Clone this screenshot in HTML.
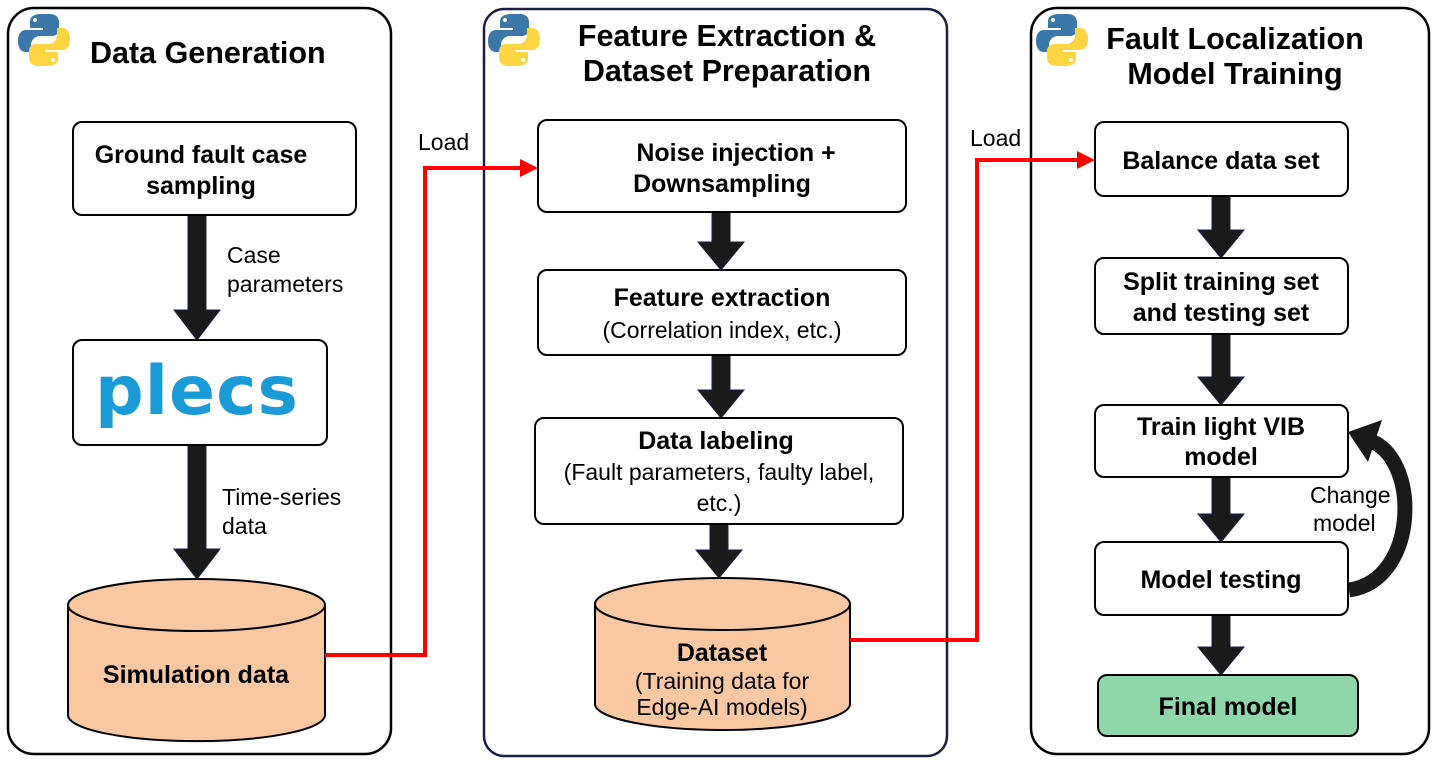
<!DOCTYPE html>
<html><head><meta charset="utf-8"><style>
html,body{margin:0;padding:0;background:#fff}
svg{display:block}
text{font-family:"Liberation Sans",sans-serif}
.b{font-weight:bold;font-size:25px}
.n{font-size:23px}
.t{font-weight:bold;font-size:30.5px}
</style></head><body>
<svg width="1435" height="761" viewBox="0 0 1435 761" xmlns="http://www.w3.org/2000/svg">
<defs>
<g id="py">
<path d="M22 2c-9 0-12 3-12 8v6h13v2H6c-5 0-8 4-8 11s3 11 8 11h5v-7c0-5 4-9 9-9h12c4 0 7-3 7-7V10c0-5-4-8-9-8z" fill="#3b77a8"/>
<circle cx="15" cy="8" r="2" fill="#fff"/>
<path d="M26 54c9 0 12-3 12-8v-6H25v-2h17c5 0 8-4 8-11s-3-11-8-11h-5v7c0 5-4 9-9 9H16c-4 0-7 3-7 7v7c0 5 4 8 9 8z" fill="#fdd441"/>
<circle cx="33" cy="48" r="2" fill="#fff"/>
</g>
</defs>
<g fill="none" stroke="#000" stroke-width="2.5">
<rect x="8" y="8" width="383" height="746" rx="26"/>
<rect x="484" y="9" width="463" height="747" rx="20" stroke="#1a1f4a"/>
<rect x="1031" y="8" width="398" height="746" rx="26"/>
</g>
<use href="#py" x="20" y="12"/>
<use href="#py" x="490" y="12"/>
<use href="#py" x="1038" y="12"/>
<text class="t" x="90" y="63">Data Generation</text>
<text class="t" x="727" y="46" text-anchor="middle">Feature Extraction &amp;</text>
<text class="t" x="727" y="81" text-anchor="middle">Dataset Preparation</text>
<text class="t" x="1235" y="49" text-anchor="middle">Fault Localization</text>
<text class="t" x="1235" y="84" text-anchor="middle">Model Training</text>

<g fill="#1a1a1a" stroke="#1a1f4a" stroke-width="1">
<path d="M188 215h18v95h14l-23 30l-23-30h14z"/>
<path d="M188 445h18v104h14l-23 30l-23-30h14z"/>
<path d="M712 212h18v30h14l-23 28l-23-28h14z"/>
<path d="M712 355h18v35h14l-23 28l-23-28h14z"/>
<path d="M710 524h18v26h14l-23 28l-23-28h14z"/>
<path d="M1212 196h18v34h14l-23 28l-23-28h14z"/>
<path d="M1212 334h18v43h14l-23 28l-23-28h14z"/>
<path d="M1212 477h18v37h14l-23 28l-23-28h14z"/>
<path d="M1212 615h18v32h14l-23 28l-23-28h14z"/>
</g>
<path d="M1349 590C1420 580 1420 455 1368 440" fill="none" stroke="#1a1a1a" stroke-width="15"/>
<path d="M1348 432L1382 420L1368 462z" fill="#1a1a1a"/>

<g fill="#fff" stroke="#000" stroke-width="2">
<rect x="73" y="122" width="283" height="93" rx="9"/>
<rect x="73" y="340" width="254" height="105" rx="9"/>
<rect x="538" y="120" width="368" height="92" rx="9"/>
<rect x="538" y="270" width="368" height="85" rx="9"/>
<rect x="535" y="418" width="368" height="106" rx="9"/>
<rect x="1095" y="122" width="253" height="74" rx="9"/>
<rect x="1095" y="258" width="253" height="76" rx="9"/>
<rect x="1095" y="405" width="253" height="72" rx="9"/>
<rect x="1095" y="542" width="253" height="73" rx="9"/>
<rect x="1098" y="675" width="260" height="61" rx="9" fill="#8fd6a9"/>
</g>
<g fill="#f9c8a2" stroke="#000" stroke-width="2">
<path d="M68 605v110a128 26 0 0 0 257 0v-110"/>
<ellipse cx="196.5" cy="605" rx="128.5" ry="26"/>
<path d="M595 604v100a127.5 26 0 0 0 255 0v-100"/>
<ellipse cx="722.5" cy="604" rx="127.5" ry="26"/>
</g>
<g fill="none" stroke="#f00" stroke-width="4">
<path d="M325 655H425V168H525"/>
<path d="M850 640H977V160H1082"/>
</g>
<path d="M520 159L538 168L520 177z" fill="#f00"/>
<path d="M1077 151L1095 160L1077 169z" fill="#f00"/>

<text class="n" x="418" y="150">Load</text>
<text class="n" x="970" y="146">Load</text>
<text class="n" x="227" y="263">Case</text>
<text class="n" x="227" y="292">parameters</text>
<text class="n" x="222" y="505">Time-series</text>
<text class="n" x="222" y="534">data</text>
<text class="n" x="1310" y="503">Change</text>
<text class="n" x="1313" y="531">model</text>

<g text-anchor="middle">
<text class="b" x="201" y="163">Ground fault case</text>
<text class="b" x="201" y="194">sampling</text>
<text class="b" x="196" y="683">Simulation data</text>
<text class="b" x="736" y="161">Noise injection  +</text>
<text class="b" x="722" y="192">Downsampling</text>
<text class="b" x="722" y="306">Feature extraction</text>
<text class="b" x="716" y="449">Data labeling</text>
<text class="b" x="722" y="661">Dataset</text>
<text class="b" x="1221" y="169">Balance data set</text>
<text class="b" x="1221" y="290">Split training set</text>
<text class="b" x="1221" y="321">and testing set</text>
<text class="b" x="1221" y="435">Train light VIB</text>
<text class="b" x="1221" y="465">model</text>
<text class="b" x="1221" y="588">Model testing</text>
<text class="b" x="1228" y="715">Final model</text>
</g>
<g text-anchor="middle">
<text class="n" x="722" y="338">(Correlation index, etc.)</text>
<text class="n" x="719" y="480">(Fault parameters, faulty label,</text>
<text class="n" x="719" y="511">etc.)</text>
<text class="n" x="722" y="689">(Training data for</text>
<text class="n" x="722" y="715">Edge-AI models)</text>
</g>
<text x="197" y="414" text-anchor="middle" font-size="68" font-weight="bold" fill="#1a9ad6" style="font-family:'DejaVu Sans',sans-serif;letter-spacing:1px">plecs</text>
</svg>
</body></html>
